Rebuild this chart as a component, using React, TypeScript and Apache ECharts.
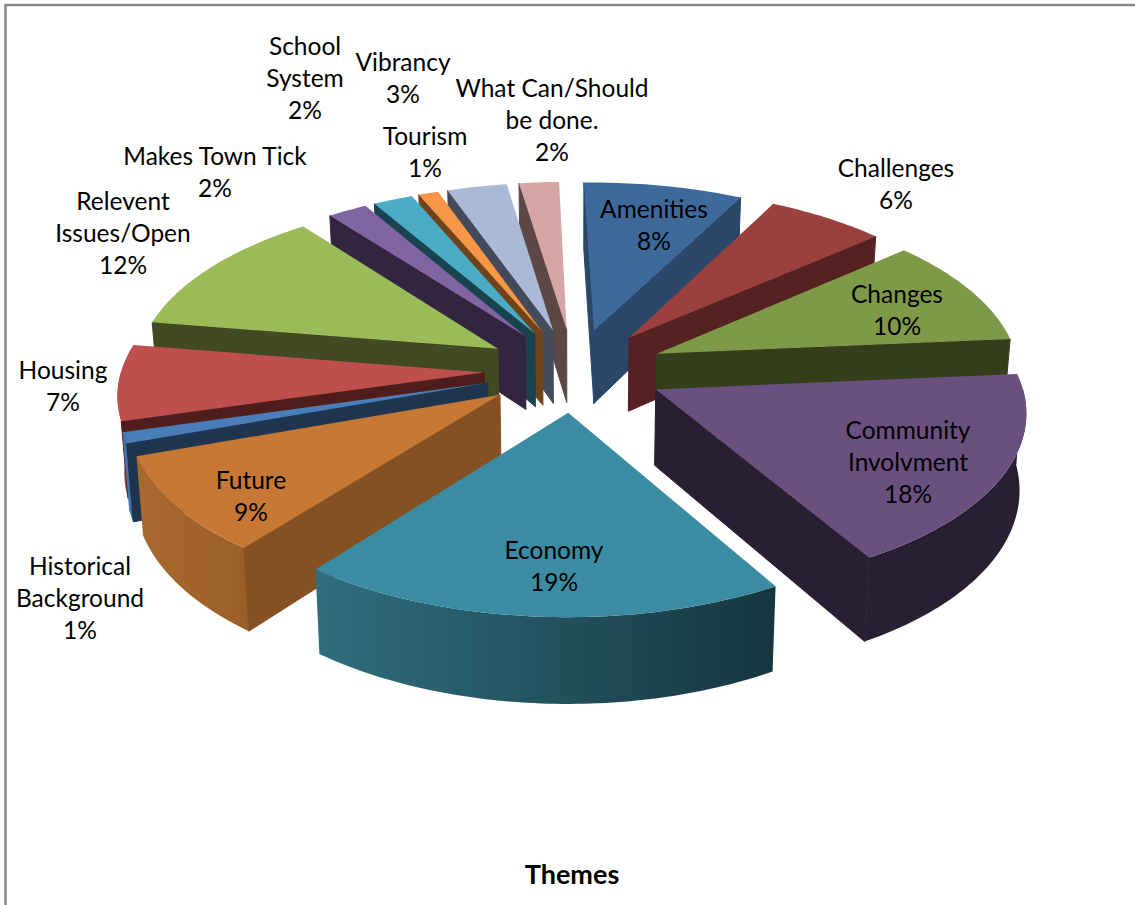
import React, { useEffect, useRef } from "react";
import * as echarts from "echarts";

// Slices in clockwise order from twelve o'clock.
const categories = [
  "Amenities",
  "Challenges",
  "Changes",
  "Community\nInvolvment",
  "Economy",
  "Future",
  "Historical\nBackground",
  "Housing",
  "Relevent\nIssues/Open",
  "Makes Town Tick",
  "School\nSystem",
  "Tourism",
  "Vibrancy",
  "What Can/Should\nbe done.",
];
const shares = [8, 6, 10, 18, 19, 9, 1, 7, 12, 2, 2, 1, 3, 2];

const topColors = [
  "#3E6A9B", "#9A403D", "#7E9A49", "#69507F", "#3B8BA2", "#C67834", "#4A7EBB",
  "#BE4F4C", "#9BBB59", "#8064A2", "#4BACC6", "#F79646", "#A9B9D6", "#D6A5A5",
];
const wallColors = [
  "#2A4769", "#562221", "#343E1B", "#281F33", "#1E4450", "#855022", "#1E344F",
  "#4F1D1C", "#414A22", "#33253F", "#19434F", "#6F431C", "#434B5B", "#5A4746",
];
const rimLeftColors = [
  "#2A4769", "#562221", "#343E1B", "#281F33", "#2F6E7E", "#A9692D", "#4273AB",
  "#A04240", "#414A22", "#33253F", "#19434F", "#6F431C", "#434B5B", "#5A4746",
];
const rimRightColors = [
  "#2A4769", "#562221", "#343E1B", "#281F33", "#16363F", "#9A5E28", "#4273AB",
  "#A04240", "#414A22", "#33253F", "#19434F", "#6F431C", "#434B5B", "#5A4746",
];

// Centre of each slice's text block, in page pixels.
const labelCentres = [
  [654, 224], [896, 183], [897, 309], [908, 461], [554, 565], [251, 495], [80, 597],
  [63, 385], [123, 232], [215, 171], [305, 77], [425, 151], [403, 77], [552, 119],
];

// Perspective projection of the tilted pie plane.
const CENTRE_X = 574.5;
const CENTRE_Y = 370;
const SCALE_X = 372;
const SCALE_Y = 172;
const PERSPECTIVE = 0.109;
const EXPLODE = 0.243;
const RIM_X = 0.975;
const THICKNESS = 75;
const FLOOR_SHRINK = 0.985;
const START_ANGLE = -1.5;

const total = shares.reduce((a, b) => a + b, 0);
const rad = (deg: number) => (deg * Math.PI) / 180;

function project(px: number, py: number) {
  const w = 1 + PERSPECTIVE * py;
  return { x: CENTRE_X + (SCALE_X * px) / w, y: CENTRE_Y - (SCALE_Y * py) / w, w };
}
function topPoint(px: number, py: number) {
  const p = project(px, py);
  return [p.x, p.y];
}
function floorPoint(px: number, py: number) {
  const p = project(px, py);
  return [CENTRE_X + (p.x - CENTRE_X) * FLOOR_SHRINK, p.y + THICKNESS / p.w];
}

function sliceAngles(index: number) {
  const before = shares.slice(0, index).reduce((a, b) => a + b, 0);
  const start = START_ANGLE + (before / total) * 360;
  const end = start + (shares[index] / total) * 360;
  return { start, end };
}

// Farther slices are painted first so that nearer ones overlap them.
const paintOrder = shares
  .map((_, i) => i)
  .sort((a, b) => {
    const away = (i: number) => {
      const { start, end } = sliceAngles(i);
      return Math.cos(rad((start + end) / 2));
    };
    return away(b) - away(a);
  });

function renderSlice(_params: any, api: any) {
  const index = api.value(0);
  const { start, end } = sliceAngles(index);
  const mid = rad((start + end) / 2);
  const ox = EXPLODE * Math.sin(mid);
  const oy = EXPLODE * Math.cos(mid);
  const rimAt = (deg: number) => [ox + RIM_X * Math.sin(rad(deg)), oy + Math.cos(rad(deg))];
  const children: any[] = [];

  // Outer rim, only where it faces the viewer.
  const rimFrom = Math.max(start, 90);
  const rimTo = Math.min(end, 270);
  if (rimTo > rimFrom) {
    const upper: number[][] = [];
    const lower: number[][] = [];
    for (let a = rimFrom; a < rimTo; a += 1) {
      const [ex, ey] = rimAt(a);
      upper.push(topPoint(ex, ey));
      lower.push(floorPoint(ex, ey));
    }
    const [lx, ly] = rimAt(rimTo);
    upper.push(topPoint(lx, ly));
    lower.push(floorPoint(lx, ly));
    children.push({
      type: "polygon",
      shape: { points: upper.concat(lower.reverse()) },
      style: {
        fill: {
          type: "linear",
          x: 0,
          y: 0,
          x2: 1,
          y2: 0,
          colorStops: [
            { offset: 0, color: rimLeftColors[index] },
            { offset: 1, color: rimRightColors[index] },
          ],
        },
      },
    });
  }

  const wall = (deg: number) => {
    const [ex, ey] = rimAt(deg);
    children.push({
      type: "polygon",
      shape: {
        points: [topPoint(ox, oy), topPoint(ex, ey), floorPoint(ex, ey), floorPoint(ox, oy)],
      },
      style: { fill: wallColors[index], stroke: wallColors[index], lineWidth: 1 },
    });
  };
  if (Math.sin(rad(start)) < 0) wall(start);
  if (Math.sin(rad(end)) > 0) wall(end);

  // Top face.
  const face: number[][] = [topPoint(ox, oy)];
  for (let a = start; a < end; a += 1) {
    const [ex, ey] = rimAt(a);
    face.push(topPoint(ex, ey));
  }
  const [fx, fy] = rimAt(end);
  face.push(topPoint(fx, fy));
  children.push({ type: "polygon", shape: { points: face }, style: { fill: topColors[index] } });

  // Category and share.
  children.push({
    type: "text",
    z2: 100,
    style: {
      text: `${categories[index]}\n${shares[index]}%`,
      x: labelCentres[index][0],
      y: labelCentres[index][1],
      align: "center",
      verticalAlign: "middle",
      fontFamily: "Lato",
      fontSize: 24.5,
      lineHeight: 32,
      fill: "#000000",
    },
  });

  return { type: "group", children };
}

export default function App() {
  const ref = useRef<HTMLDivElement>(null);

  useEffect(() => {
    document.body.style.margin = "0";
    const chart = echarts.init(ref.current!, null, { renderer: "svg" });
    chart.setOption({
      animation: false,
      backgroundColor: "#ffffff",
      title: {
        text: "Themes",
        left: 567,
        top: 855,
        textAlign: "center",
        textStyle: { fontFamily: "Lato", fontSize: 27, fontWeight: "bold", color: "#000000" },
      },
      graphic: {
        elements: [
          {
            type: "rect",
            silent: true,
            shape: { x: 5.5, y: 5, width: 1300, height: 1100 },
            style: { fill: "none", stroke: "#868686", lineWidth: 2.5 },
          },
        ],
      },
      series: [
        {
          type: "custom",
          coordinateSystem: "none",
          silent: true,
          data: paintOrder.map((i) => [i, shares[i]]),
          renderItem: renderSlice,
        },
      ],
    });
    return () => chart.dispose();
  }, []);

  return <div ref={ref} style={{ position: "fixed", left: 0, top: 0, width: 1135, height: 905 }} />;
}
